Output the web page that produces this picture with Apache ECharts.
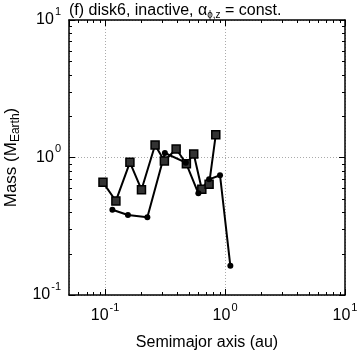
<!DOCTYPE html>
<html>
<head>
<meta charset="utf-8">
<script src="https://cdn.jsdelivr.net/npm/echarts@6/dist/echarts.min.js"></script>
<style>
  html, body { margin: 0; padding: 0; background: #fff; }
  #chart { width: 359px; height: 351px; }
</style>
</head>
<body>
<div id="chart"></div>
<script>
// semimajor axis (au) and mass (M_Earth)
const boxA = [0.096, 0.123, 0.161, 0.201, 0.261, 0.312, 0.391, 0.476, 0.548, 0.640, 0.736, 0.837]
const boxM = [0.66, 0.483, 0.923, 0.583, 1.233, 0.943, 1.153, 0.901, 1.06, 0.587, 0.638, 1.465]
const dotA = [0.115, 0.155, 0.225, 0.315, 0.471, 0.599, 0.736, 0.908, 1.107]
const dotM = [0.417, 0.382, 0.367, 1.078, 0.917, 0.549, 0.694, 0.743, 0.163]

const xMin = 0.05, xMax = 10
const yMin = 0.1, yMax = 10

const font = "'Liberation Sans', Arial, Helvetica, sans-serif"

// minor ticks 2..9 per decade (gnuplot style)
const minorTicks = []
for (let e = -2; e <= 0; e++) {
  for (let d = 2; d <= 9; d++) {
    const v = d * Math.pow(10, e)
    if (v > xMin && v < xMax) minorTicks.push([v, 1, 0])
    if (v > yMin && v < yMax) minorTicks.push([1, v, 1])
  }
}

const powLabel = (value) => {
  const e = Math.round(Math.log10(value))
  if (Math.abs(Math.log10(value) - e) > 1e-6) return ''
  return '{b|10}{s|' + e + '}'
}

// superscript: pad the exponent below so it sits high on the line
const labelRich = {
  b: { fontSize: 16, lineHeight: 18, color: '#000', fontFamily: font },
  s: { fontSize: 11, lineHeight: 11, padding: [0, 0, 17, 1], color: '#000', fontFamily: font }
}

const axisBase = {
  axisLine: { show: true, lineStyle: { color: '#000', width: 1.5 } },
  axisTick: { show: true, inside: true, length: 6, lineStyle: { color: '#000', width: 1 } }
}

const chart = echarts.init(document.getElementById('chart'), null, { renderer: 'canvas' })

const option = {
  animation: false,
  title: {
    text: '(f) disk6, inactive, α{sub|ϕ,z} = const.',
    left: 64,
    top: -2,
    textStyle: {
      fontSize: 16,
      fontWeight: 'normal',
      color: '#000',
      fontFamily: font,
      rich: {
        sub: { fontSize: 10, lineHeight: 10, padding: [8, 0, 0, 0], color: '#000', fontFamily: font }
      }
    }
  },
  grid: { left: 69, top: 20, width: 276, height: 275, containLabel: false, outerBoundsMode: 'none' },
  xAxis: [
    {
      type: 'log', logBase: 10, min: xMin, max: xMax, position: 'bottom',
      ...axisBase,
      axisLabel: { formatter: powLabel, margin: 12, rich: labelRich, showMinLabel: false },
      splitLine: { show: true, lineStyle: { color: '#aaa', type: [1, 2], width: 1 } },
      name: 'Semimajor axis (au)',
      nameLocation: 'middle',
      nameGap: 37,
      nameTextStyle: { fontSize: 16, color: '#000', fontFamily: font }
    },
    {
      type: 'log', logBase: 10, min: xMin, max: xMax, position: 'top',
      ...axisBase,
      axisLabel: { show: false },
      splitLine: { show: false }
    }
  ],
  yAxis: [
    {
      type: 'log', logBase: 10, min: yMin, max: yMax, position: 'left',
      ...axisBase,
      axisLabel: { formatter: powLabel, margin: 8, rich: labelRich },
      splitLine: { show: true, lineStyle: { color: '#aaa', type: [1, 2], width: 1 } },
      name: 'Mass (M{sub|Earth})',
      nameLocation: 'middle',
      nameRotate: 90,
      nameGap: 47,
      nameTextStyle: {
        fontSize: 17, color: '#000', fontFamily: font,
        rich: { sub: { fontSize: 12, lineHeight: 12, padding: [8, 0, 0, 0], color: '#000', fontFamily: font } }
      }
    },
    {
      type: 'log', logBase: 10, min: yMin, max: yMax, position: 'right',
      ...axisBase,
      axisLabel: { show: false },
      splitLine: { show: false }
    }
  ],
  series: [
    {
      type: 'custom',
      xAxisIndex: 0,
      yAxisIndex: 0,
      silent: true,
      data: minorTicks,
      renderItem: (params, api) => {
        const cs = params.coordSys
        const len = 3
        const st = { stroke: '#000', lineWidth: 1 }
        if (api.value(2) === 0) {
          const px = Math.round(api.coord([api.value(0), 1])[0]) + 0.5
          return {
            type: 'group',
            children: [
              { type: 'line', shape: { x1: px, y1: cs.y + cs.height, x2: px, y2: cs.y + cs.height - len }, style: st },
              { type: 'line', shape: { x1: px, y1: cs.y, x2: px, y2: cs.y + len }, style: st }
            ]
          }
        }
        const py = Math.round(api.coord([1, api.value(1)])[1]) + 0.5
        return {
          type: 'group',
          children: [
            { type: 'line', shape: { x1: cs.x, y1: py, x2: cs.x + len, y2: py }, style: st },
            { type: 'line', shape: { x1: cs.x + cs.width, y1: py, x2: cs.x + cs.width - len, y2: py }, style: st }
          ]
        }
      }
    },
    {
      type: 'line',
      data: boxA.map((a, i) => [a, boxM[i]]),
      symbol: 'rect',
      symbolSize: 8,
      lineStyle: { color: '#000', width: 2 },
      itemStyle: { color: '#333', borderColor: '#000', borderWidth: 1.5 }
    },
    {
      type: 'line',
      data: dotA.map((a, i) => [a, dotM[i]]),
      symbol: 'circle',
      symbolSize: 6,
      lineStyle: { color: '#000', width: 2 },
      itemStyle: { color: '#000' }
    }
  ]
}

chart.setOption(option)
</script>
</body>
</html>
